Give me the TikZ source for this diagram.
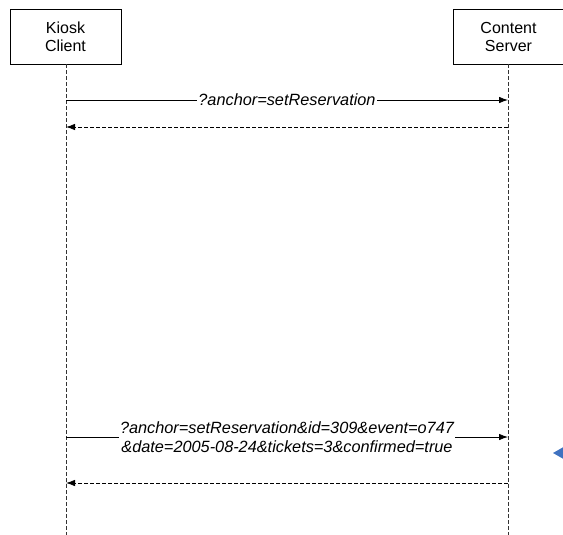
\documentclass[tikz,border=0pt]{standalone}
\usepackage{fontspec}
\setmainfont{Liberation Sans}
\usetikzlibrary{arrows.meta,positioning,calc}
\definecolor{lifegray}{HTML}{333333}
\definecolor{markblue}{HTML}{3F72C0}

\tikzset{
  actor/.style={draw, line width=0.8pt, minimum width=111pt, minimum height=55pt, align=center, font=\fontsize{16}{18}\selectfont, inner sep=0pt},
  lifeline/.style={draw=lifegray, line width=0.7pt, dash pattern=on 4pt off 2pt},
  msg/.style={line width=0.8pt, -{Latex[length=9pt,width=6.5pt]}},
  reply/.style={line width=0.8pt, dash pattern=on 4pt off 2pt, -{Latex[length=9pt,width=6.5pt]}},
  msglabel/.style={fill=white, inner sep=1pt, align=center, font=\fontsize{16.3}{19}\selectfont\itshape}
}

\begin{document}
\begin{tikzpicture}[x=1pt, y=-1pt]
\useasboundingbox (0,0) rectangle (563,535);
\node[actor] (kiosk) at (65.5,36.5) {Kiosk\\Client};
\node[actor] (server) at (508.5,36.5) {Content\\Server};
\coordinate (kioskend) at (66,535);
\coordinate (serverend) at (508,535);
\draw[lifeline] (kiosk.south -| kioskend) -- (kioskend);
\draw[lifeline] (server.south -| serverend) -- (serverend);

\coordinate (k1) at (66,100);
\coordinate (s1) at (508,100);
\coordinate (k2) at (66,127);
\coordinate (s2) at (508,127);
\coordinate (k3) at (66,437);
\coordinate (s3) at (508,437);
\coordinate (k4) at (66,483);
\coordinate (s4) at (508,483);

\draw[msg] (k1) -- node[msglabel] (ask) {?anchor=setReservation} (s1);
\draw[reply] (s2) -- (k2);
\draw[msg] (k3) -- node[msglabel, yshift=-0.5pt] (confirm) {?anchor=setReservation\&id=309\&event=o747\\\&date=2005-08-24\&tickets=3\&confirmed=true} (s3);
\draw[reply] (s4) -- (k4);

\fill[markblue] (553,453) -- (567,445) -- (567,461) -- cycle;
\end{tikzpicture}
\end{document}
